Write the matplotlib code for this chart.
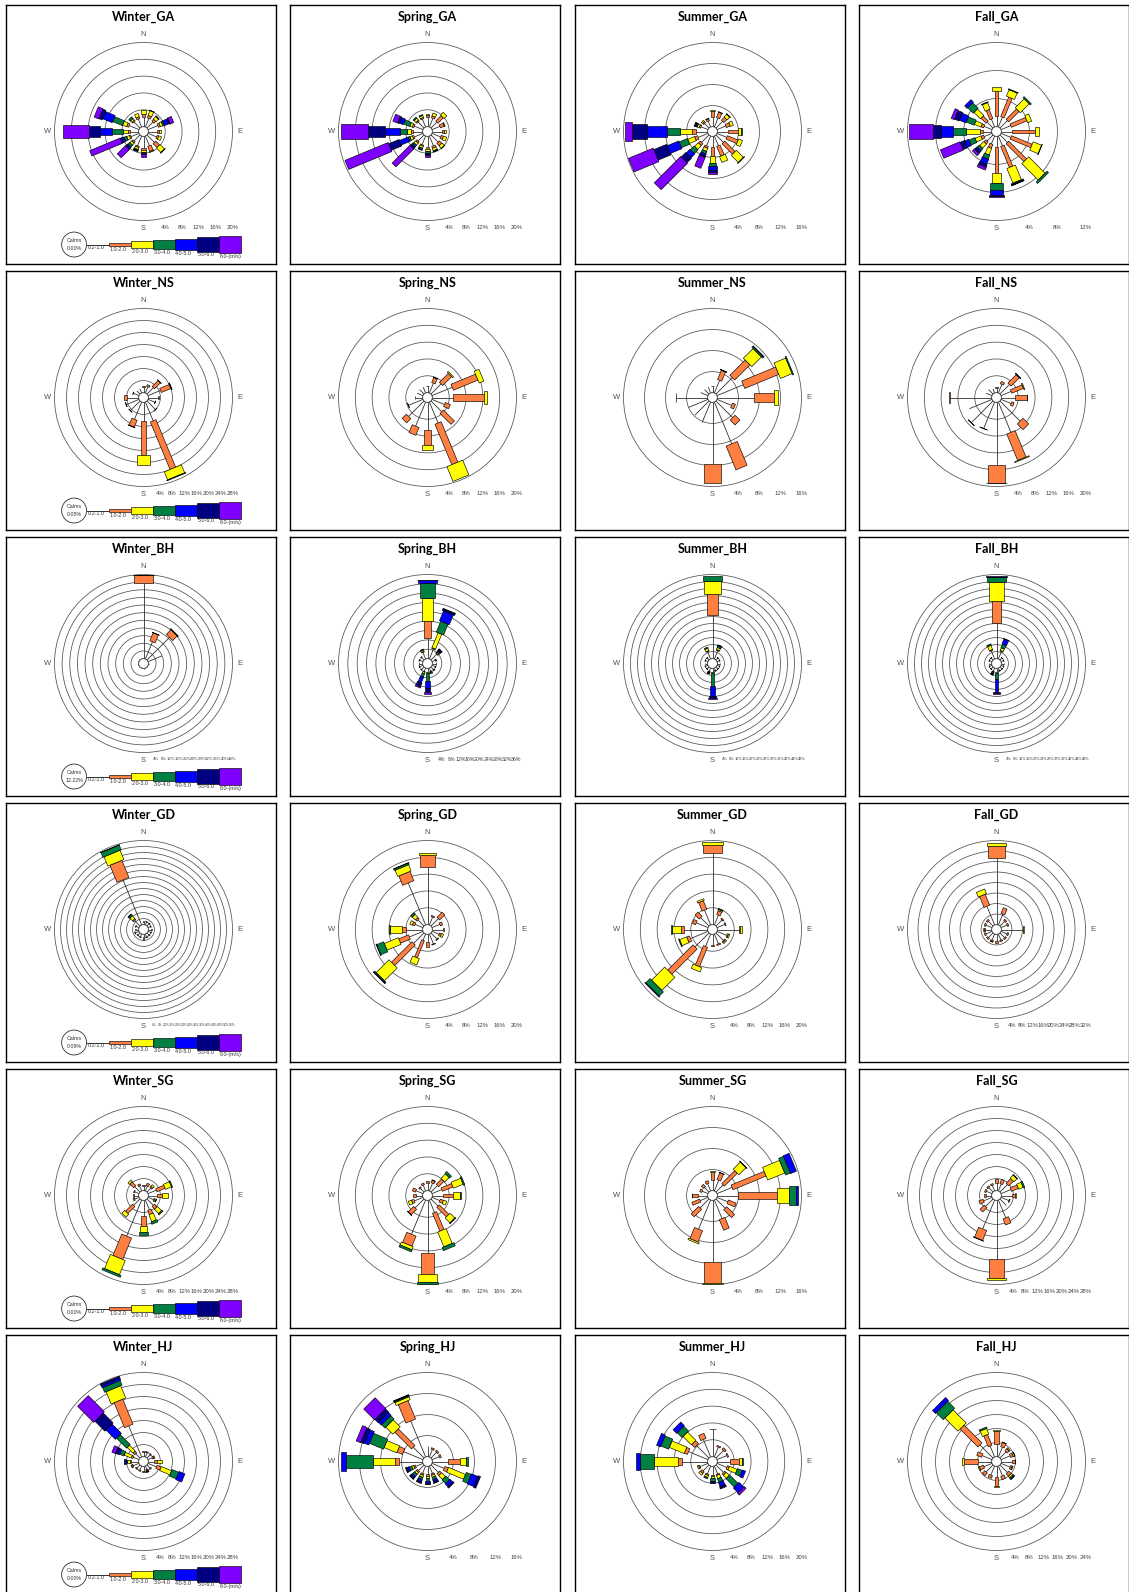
import numpy as np
import matplotlib
matplotlib.use("Agg")
import matplotlib.pyplot as plt
from matplotlib.patches import Rectangle, Circle
from matplotlib.transforms import Affine2D

# ---------------------------------------------------------------- data
DIRECTIONS = ["N", "NNE", "NE", "ENE", "E", "ESE", "SE", "SSE",
              "S", "SSW", "SW", "WSW", "W", "WNW", "NW", "NNW"]
SPEED_CLASSES = ["0.2-1.0", "1.0-2.0", "2.0-3.0", "3.0-4.0",
                 "4.0-5.0", "5.0-6.0", "6.0-(m/s)"]
SEASONS = ["Winter", "Spring", "Summer", "Fall"]
SITES = ["GA", "NS", "BH", "GD", "SG", "HJ"]

# outermost ring (%) of every rose, rows = sites, columns = seasons
RING_MAX = [[20, 20, 16, 12],
            [28, 20, 16, 20],
            [44, 36, 48, 48],
            [56, 20, 20, 32],
            [28, 20, 16, 28],
            [28, 16, 20, 24]]
CALMS = [0.00, 0.05, 12.22, 0.09, 0.00, 0.00]

# frequency (%) per direction (N..NNW) and speed class (0.2-1.0 .. 6.0-)
WINTER_GA = [[2.2, 0.8, 1.0], [2.2, 0.6, 1.2, 0.1], [2.0, 0.6, 0.8, 0.2],
             [2.5, 0.5, 0.6, 0.4, 1.2, 0.2, 0.9], [2.0, 0.5, 0.5], [2.2, 0.4, 0.7],
             [2.5, 1.3, 1.5, 0.1], [2.5, 1.3, 0.2], [2.8, 0.4, 0.4, 0.3, 0.2, 0.2, 0.5],
             [2.5, 0.3, 0.5, 0.2, 0.1, 0.1, 0.1], [2.0, 0.4, 0.6, 0.6, 0.4, 0.3, 2.7],
             [2.0, 0.3, 0.7, 0.6, 0.6, 0.4, 7.8], [2.0, 0.6, 1.0, 2.8, 2.8, 2.6, 6.2],
             [2.5, 0.5, 1.0, 2.5, 2.5, 0.8, 1.2], [2.0, 0.3, 0.5, 0.5], [2.0, 0.5, 0.8]]
SPRING_GA = [[2.2, 0.5, 0.4], [2.2, 0.5, 0.7], [2.0, 1.8, 0.9], [2.0, 1.0, 0.2],
             [2.2, 0.5, 0.6], [2.2, 0.6, 0.8], [2.4, 0.8, 0.8, 0.1], [2.5, 0.5, 0.6, 0.2, 0.1],
             [2.5, 0.5, 0.4, 0.6, 0.3, 0.2, 0.5], [2.2, 0.3, 0.5, 0.3, 0.2],
             [2.0, 0.4, 0.6, 0.4, 0.4, 0.3, 6.0], [2.2, 0.4, 0.6, 0.4, 2.2, 2.7, 11.1],
             [2.4, 0.4, 1.0, 1.6, 3.6, 4.1, 6.4], [2.2, 0.4, 0.6, 1.6, 1.0, 0.4, 1.2],
             [2.0, 0.3, 0.6, 0.3], [2.0, 0.3, 0.5, 0.2]]
SUMMER_GA = [[1.8, 1.2, 0.1], [1.8, 1.1, 0.1], [1.8, 0.8, 0.7, 0.1], [1.8, 0.8, 0.6],
             [2.0, 2.0, 0.5, 0.1], [2.0, 2.2, 0.8], [2.0, 2.8, 1.9, 0.1], [2.0, 2.0, 1.2],
             [2.0, 1.7, 1.3, 0.6, 0.7, 0.4, 0.4], [2.0, 0.4, 0.6, 0.5, 0.4, 0.3, 2.2],
             [2.0, 0.5, 1.0, 1.0, 1.0, 1.2, 7.1], [2.0, 0.6, 1.4, 1.7, 2.4, 2.6, 5.1],
             [2.3, 0.7, 2.2, 2.6, 3.8, 2.7, 1.4], [1.4, 0.3, 0.4, 0.2, 0.2, 0.2],
             [1.2, 0.3, 0.3], [1.2, 0.4, 0.1]]
FALL_GA = [[1.5, 3.6, 0.5], [1.5, 3.0, 1.0, 0.1], [1.5, 2.1, 1.8, 0.2], [1.5, 2.4, 0.6],
           [1.5, 3.3, 0.5], [1.5, 3.2, 1.3, 0.05], [1.5, 3.6, 3.3, 0.3],
           [1.5, 3.25, 2.25, 0.15, 0.05, 0.05, 0.05], [1.5, 3.7, 1.4, 1.0, 0.7, 0.2, 0.1],
           [1.2, 0.6, 1.0, 0.6, 0.8, 0.4, 0.4], [1.2, 0.4, 0.8, 0.4, 0.3, 0.2, 0.4],
           [1.2, 0.4, 0.9, 0.9, 0.6, 0.7, 3.0], [1.2, 0.5, 1.9, 1.9, 1.7, 1.2, 3.4],
           [1.2, 0.4, 1.0, 1.2, 1.0, 0.7, 0.5], [1.2, 1.0, 1.3, 1.1, 0.5], [1.2, 1.4, 1.0, 0.1]]

WINTER_NS = [[2.0, 0.1], [2.2, 0.6], [3.0, 2.8, 0.1], [4.5, 3.4, 0.2, 0.1], [3.2, 0.2],
             [2.5, 0.1], [4.0, 0.1], [6.8, 17.1, 2.9, 0.2], [6.2, 11.2, 3.3], [6.2, 2.5, 0.1],
             [4.5, 0.1], [4.5, 0.2], [4.0, 1.0], [2.0, 0.1], [1.5], [1.5]]
SPRING_NS = [[1.5, 0.1], [2.5, 1.3, 0.05], [3.4, 3.0, 0.3], [5.2, 6.3, 1.2], [5.0, 7.2, 0.8],
             [3.2, 1.3], [3.6, 3.7], [5.4, 10.4, 3.8], [6.5, 3.6, 1.3], [6.2, 2.0], [5.2, 1.4],
             [3.7, 0.1], [1.8, 0.05], [1.5], [1.5], [1.5]]
SUMMER_NS = [[1.2, 0.1], [2.6, 1.9, 0.05, 0.05], [4.4, 4.1, 2.6, 0.3, 0.1], [5.4, 7.0, 2.4, 0.2],
             [6.9, 3.9, 0.7], [3.0, 0.6], [4.5, 1.3], [8.6, 4.9], [11.8, 3.6], [4.2], [3.8],
             [4.0], [6.0, 0.1], [1.5], [1.2], [1.2]]
FALL_NS = [[1.2, 0.1], [2.2, 0.6], [3.2, 2.8, 0.1, 0.05], [2.6, 3.0, 0.2], [3.2, 2.8, 0.1],
           [2.6, 0.6], [6.8, 1.9], [7.8, 6.8, 0.2], [15.0, 4.2, 0.05], [6.8, 0.05], [7.3, 0.05],
           [5.8], [10.0, 0.1], [1.5], [1.5], [1.0]]

WINTER_BH = [[39.6, 3.9, 0.1, 0.05], [9.7, 4.5, 0.1], [16.7, 3.5, 0.1, 0.05, 0.05], [7.9],
             [0.3], [0.3], [0.3], [0.3], [0.3], [0.3], [0.3], [0.3], [0.3], [0.3], [0.3], [0.3]]
SPRING_BH = [[8.8, 7.2, 9.9, 6.5, 1.4, 0.05], [4.5, 0.4, 6.9, 5.0, 4.5, 0.7, 0.3],
             [3.5, 0.3, 0.5, 0.5, 0.6, 0.3, 0.2], [1.5, 0.2, 0.2], [1.5, 0.2], [1.5, 0.2],
             [1.5, 0.2, 0.3], [1.5, 0.2, 0.3, 0.5], [1.4, 0.2, 0.4, 3.3, 3.2, 1.7, 0.6],
             [1.5, 0.3, 0.7, 1.5, 2.5, 1.7, 0.6], [1.5, 0.2], [1.5, 0.2], [1.5, 0.2],
             [1.5, 0.2], [1.5, 0.2], [3.0, 0.3, 0.6, 0.4]]
SUMMER_BH = [[25.0, 11.9, 7.6, 2.5], [5.0, 0.5, 1.2, 1.0, 0.6], [1.5, 0.2], [1.5, 0.2],
             [1.5, 0.2], [1.5, 0.2], [1.5, 0.2], [1.5, 0.2, 0.2],
             [2.0, 0.2, 0.3, 7.7, 5.7, 1.0, 0.6], [2.0, 0.2, 0.3, 0.4, 0.4, 0.1],
             [1.5, 0.2], [1.5, 0.2], [1.5, 0.2], [1.5, 0.2], [1.5, 0.2], [4.5, 0.3, 1.5, 0.6]]
FALL_BH = [[20.2, 12.8, 11.0, 2.5, 0.2, 0.5], [4.5, 0.5, 1.5, 2.3, 3.0, 0.1], [1.5, 0.2],
           [1.5, 0.2], [1.5, 0.2], [1.5, 0.2], [1.5, 0.2], [1.5, 0.2, 0.2],
           [1.8, 0.4, 0.3, 3.8, 6.9, 0.8, 0.6], [2.0, 0.2, 0.4, 0.6, 0.7, 0.3],
           [1.5, 0.2], [1.5, 0.2], [1.5, 0.2], [1.5, 0.2], [1.5, 0.2], [5.0, 0.5, 2.5, 0.8]]

WINTER_GD = [[2.0, 0.3], [2.0, 0.3], [2.0, 0.4], [1.8, 0.3], [2.0, 0.3], [2.0, 0.3],
             [2.0, 0.4], [2.0, 0.6], [2.0, 1.4], [2.0, 0.4], [2.0, 0.3], [2.5, 0.4],
             [2.0, 0.3], [2.0, 0.4], [5.0, 1.0, 2.5, 1.2, 0.2], [32.5, 12.3, 6.7, 3.4, 0.1]]
SPRING_GD = [[13.8, 2.8, 0.4], [2.0, 0.3], [2.5, 1.7], [2.0, 0.6], [2.5, 0.2],
             [1.8, 0.5, 0.5], [2.0, 0.2], [2.5, 0.2], [1.8, 1.2], [1.6, 4.4, 1.6],
             [3.5, 6.9, 4.3, 0.3, 0.1], [3.5, 2.5, 3.6, 1.8, 0.1], [4.0, 1.0, 2.7, 0.2],
             [2.0, 0.6, 0.6], [2.0, 0.5, 1.0, 0.4], [10.8, 2.4, 1.6, 0.4, 0.05]]
SUMMER_GD = [[17.0, 2.0, 0.6], [2.5, 1.0, 0.3, 0.2], [2.0, 0.3], [2.0, 0.2],
             [5.2, 0.1, 0.5], [2.5, 0.3, 0.3], [2.5, 0.3, 0.3], [2.5, 0.3], [2.5, 0.3],
             [3.2, 5.0, 1.1], [4.7, 8.5, 4.4, 1.4, 0.2], [4.5, 0.7, 1.8, 0.2],
             [5.5, 0.9, 2.0, 0.2], [3.0, 0.8], [2.8, 1.4], [3.8, 2.2, 0.4]]
FALL_GD = [[25.3, 4.5, 1.3], [4.5, 2.3], [2.5, 0.6], [2.5, 0.5], [8.3, 0.1, 0.2],
           [2.5, 0.5], [2.5, 0.5], [2.5, 0.5], [2.5, 0.6], [2.5, 0.5, 0.2], [2.5, 0.5],
           [2.5, 0.5], [2.5, 0.5, 0.2], [2.5, 0.5], [2.5, 0.6], [7.7, 4.5, 1.9]]

WINTER_SG = [[1.5, 0.5], [1.8, 0.8], [1.8, 0.5, 0.7], [3.0, 2.9, 2.2, 0.3], [3.0, 1.5, 2.0],
             [2.0, 0.3, 0.5, 0.1], [3.0, 1.2, 2.0, 0.4], [3.5, 1.5, 2.5, 0.8],
             [5.3, 3.1, 2.1, 0.9], [13.0, 7.7, 5.1, 0.7], [3.0, 3.3, 1.3], [1.5, 0.5],
             [1.5, 0.3], [1.5, 0.3], [2.5, 1.8, 0.7], [1.8, 0.6]]
SPRING_SG = [[1.8, 0.5], [2.0, 0.6, 0.1], [2.2, 1.8, 1.5, 0.6], [2.5, 2.7, 2.5, 0.3],
             [2.5, 2.5, 1.6, 0.3], [2.0, 0.8, 0.8], [2.4, 3.2, 1.6, 0.2], [3.2, 4.6, 3.8, 0.8],
             [12.6, 4.9, 1.9, 0.5], [8.8, 2.6, 0.8, 0.5], [3.0, 1.8, 0.1], [2.2, 0.6, 0.8],
             [1.5, 0.7], [1.8, 0.8], [1.2, 0.3], [1.5, 0.4]]
SUMMER_SG = [[2.0, 1.6, 0.05], [2.2, 1.4, 0.05], [1.9, 3.5, 1.9, 0.1], [3.1, 6.8, 3.5, 1.0, 1.2],
             [4.0, 7.4, 2.2, 1.3, 0.5], [2.2, 1.6], [2.5, 2.1], [3.8, 2.2], [11.8, 3.9, 0.2],
             [6.0, 2.3, 0.3], [2.4, 2.0], [1.6, 1.6], [1.8, 1.2, 0.05], [1.2, 0.4],
             [1.2, 0.6], [1.5, 0.5]]
FALL_SG = [[2.5, 1.5], [2.5, 1.5], [3.5, 2.2, 1.4, 0.2], [3.5, 2.5, 1.6, 0.5], [3.5, 1.0, 0.2],
           [2.8, 0.3], [3.0], [6.4, 2.2], [19.6, 6.4, 0.5], [10.4, 3.6, 0.1], [3.5, 2.0],
           [3.0, 1.5], [2.0, 0.5], [2.0, 0.5], [2.0, 0.5], [2.0, 0.5]]

WINTER_HJ = [[1.5, 0.3], [1.5, 0.3], [1.5, 0.3], [1.5, 0.5, 0.3], [2.0, 1.0, 1.5],
             [3.0, 1.5, 3.7, 2.4, 2.1], [1.5, 0.3], [1.2, 0.3, 0.3, 0.2, 0.2], [1.5, 0.3],
             [1.5, 0.3], [1.5, 0.3], [2.0, 0.4, 0.3], [2.5, 0.5, 0.8, 0.5, 0.4, 0.3],
             [2.0, 0.6, 2.5, 1.5, 0.8, 0.6, 1.3], [2.0, 0.8, 2.7, 4.7, 4.4, 4.7, 7.6],
             [11.2, 9.0, 4.4, 1.7, 0.7, 0.7]]
SPRING_HJ = [[2.0], [1.5, 0.3], [1.5, 0.3], [1.5, 0.3], [3.0, 2.3, 1.0, 0.4],
             [2.5, 0.7, 3.5, 1.0, 1.3, 0.5], [2.0, 0.5, 1.0, 1.0, 0.7, 0.3],
             [1.5, 0.3, 0.4, 0.5, 0.4, 0.2, 0.1], [1.5, 0.3, 0.4, 0.5, 0.4, 0.2, 0.1],
             [1.5, 0.3, 0.4, 0.5, 0.4, 0.2, 0.1], [1.5, 0.3, 0.4, 0.5, 0.4, 0.2, 0.1],
             [1.5, 0.3, 0.4, 0.5, 0.4, 0.2, 0.1], [4.5, 0.7, 4.2, 5.1, 1.1],
             [4.0, 1.1, 2.6, 2.9, 0.9, 0.7, 0.9], [2.9, 4.5, 1.9, 0.9, 0.7, 0.9, 2.9],
             [7.4, 3.8, 0.6, 0.2, 0.1, 0.1]]
SUMMER_HJ = [[6.5, 0.1], [2.5, 0.3], [2.5, 0.5], [2.5, 0.3], [3.0, 2.2, 0.6, 0.2],
             [2.5, 0.5, 2.0, 1.2, 0.8], [2.5, 0.5, 1.0, 2.8, 1.6, 0.0, 0.6],
             [2.0, 0.3, 0.8, 0.9, 1.0, 0.4, 0.2], [2.0, 0.3, 0.5, 0.6, 0.4, 0.2],
             [2.0, 0.3, 0.5, 0.3], [2.0, 0.5, 0.5], [2.0, 0.3, 0.3],
             [6.0, 1.0, 5.8, 3.2, 1.1], [5.0, 0.8, 3.8, 2.0, 1.0], [4.2, 1.0, 2.8, 1.6, 1.2],
             [4.5, 1.3]]
FALL_HJ = [[3.6, 3.8, 0.3], [3.0, 1.3, 0.1], [2.5, 0.8, 0.3], [2.8, 0.8, 0.4, 0.1],
           [3.0, 0.8, 0.2], [2.8, 0.5, 0.2], [3.0, 1.0, 0.6, 0.4, 0.2], [3.0, 1.0],
           [3.0, 2.6, 0.3], [2.8, 0.8], [2.8, 1.0], [2.5, 1.2, 0.3], [4.0, 3.8, 0.6],
           [3.0, 1.5], [5.3, 7.2, 5.3, 2.8, 1.2], [3.4, 3.3, 1.7, 0.4]]

ROSES = [[WINTER_GA, SPRING_GA, SUMMER_GA, FALL_GA],
         [WINTER_NS, SPRING_NS, SUMMER_NS, FALL_NS],
         [WINTER_BH, SPRING_BH, SUMMER_BH, FALL_BH],
         [WINTER_GD, SPRING_GD, SUMMER_GD, FALL_GD],
         [WINTER_SG, SPRING_SG, SUMMER_SG, FALL_SG],
         [WINTER_HJ, SPRING_HJ, SUMMER_HJ, FALL_HJ]]

# ---------------------------------------------------------------- style
CLASS_COLORS = ["#000000", "#FF7F40", "#FFFF00", "#008040",
                "#0000FF", "#000080", "#8000FF"]
LEGEND_HEIGHTS = [0.0, 0.04, 0.075, 0.10, 0.125, 0.16, 0.19]
FIG_W, FIG_H = 1129, 1592
BOX_W, BOX_H = 270, 259
COL_LEFT = [6, 290, 575, 859]
ROW_TOP = [5, 271, 537, 803, 1069, 1335]
CX, CY = 137.5, 126.5      # rose centre inside a panel (px from left / top)
R_PX = 89.0                # outer ring radius in px
HOLE = 0.055               # radius of the central hole (outer ring = 1)
BAND_HALF = 0.12           # band half-width relative to its inner radius
SMALL = ["Liberation Sans", "DejaVu Sans"]
NARROW = ["Liberation Sans Narrow", "Liberation Sans", "DejaVu Sans"]


def to_radius(pct, vmax):
    return HOLE + (1.0 - HOLE) * pct / vmax


def draw_rose(ax, freqs, vmax):
    n_rings = int(round(vmax / 4))
    # ring labels shrink when the rings crowd together
    spacing_px = (1.0 - HOLE) * R_PX / n_rings
    label_size = min(4.3, max(2.3, 0.92 * spacing_px / 2.3))
    for k in range(1, n_rings + 1):
        r = to_radius(4 * k, vmax)
        ax.add_patch(Circle((0, 0), r, fill=False, ec="#505050", lw=0.55, zorder=1))
        ax.text(r, -1.075, f"{4 * k}%", fontsize=label_size, color="#404040",
                ha="center", va="center", family=NARROW)
    for i, row in enumerate(freqs):
        theta = i * 22.5
        tr = Affine2D().rotate_deg(90 - theta) + ax.transData
        cum = np.cumsum(row)
        r_prev = HOLE
        for k, v in enumerate(row):
            r_next = to_radius(cum[k], vmax)
            if k == 0:
                ax.plot([r_prev, r_next], [0, 0], transform=tr, color="#303030",
                        lw=0.6, zorder=2, solid_capstyle="butt")
            elif v > 0:
                hw = BAND_HALF * r_prev
                ax.add_patch(Rectangle((r_prev, -hw), r_next - r_prev, 2 * hw,
                                       fc=CLASS_COLORS[k], ec="black", lw=0.45,
                                       transform=tr, zorder=3))
            r_prev = r_next
    ax.add_patch(Circle((0, 0), HOLE, fc="white", ec="#303030", lw=0.6, zorder=5))
    for lbl, x, y in [("N", 0, 1.09), ("S", 0, -1.09), ("W", -1.08, 0), ("E", 1.08, 0)]:
        ax.text(x, y, lbl, fontsize=5.5, color="#505050", ha="center", va="center",
                family=SMALL)


def draw_legend(ax, calm):
    y0 = -1.27
    ax.add_patch(Circle((-0.78, y0), 0.14, fill=False, ec="#303030", lw=0.6))
    ax.text(-0.78, y0 + 0.045, "Calms", fontsize=3.8, ha="center", va="center",
            color="#303030", family=SMALL)
    ax.text(-0.78, y0 - 0.045, f"{calm:.2f}%", fontsize=3.8, ha="center", va="center",
            color="#303030", family=SMALL)
    x = -0.635
    seg = 0.247
    for k, name in enumerate(SPEED_CLASSES):
        h = LEGEND_HEIGHTS[k]
        if k == 0:
            ax.plot([x, x + seg], [y0, y0], color="#303030", lw=0.7)
        else:
            ax.add_patch(Rectangle((x, y0 - h / 2), seg, h, fc=CLASS_COLORS[k],
                                   ec="black", lw=0.45))
        ax.text(x + 0.005, y0 - h / 2 - 0.008, name, fontsize=3.9, ha="left", va="top",
                color="#303030", family=NARROW)
        x += seg


fig = plt.figure(figsize=(FIG_W / 100, FIG_H / 100), dpi=100)
fig.patch.set_facecolor("white")

for row, site in enumerate(SITES):
    for col, season in enumerate(SEASONS):
        left, top = COL_LEFT[col], ROW_TOP[row]
        ax = fig.add_axes([left / FIG_W, 1 - (top + BOX_H) / FIG_H,
                           BOX_W / FIG_W, BOX_H / FIG_H])
        ax.set_xlim(-CX / R_PX, (BOX_W - CX) / R_PX)
        ax.set_ylim(-(BOX_H - CY) / R_PX, CY / R_PX)
        ax.set_xticks([])
        ax.set_yticks([])
        for sp in ax.spines.values():
            sp.set_linewidth(1.0)
            sp.set_color("black")
        draw_rose(ax, ROSES[row][col], RING_MAX[row][col])
        ax.text(0, 1.29, f"{season}_{site}", fontsize=9, fontweight="bold",
                ha="center", va="center", family=["Lato", "DejaVu Sans"])
        if col == 0:
            draw_legend(ax, CALMS[row])

fig.savefig("out.png", dpi=100, facecolor="white")
